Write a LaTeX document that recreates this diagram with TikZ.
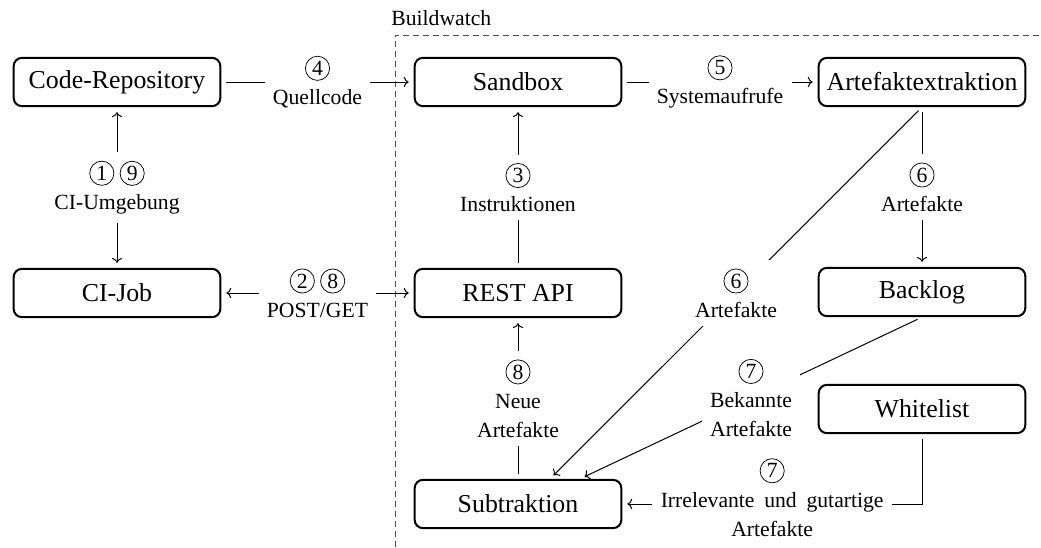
\documentclass[tikz,border=0pt]{standalone}
\usepackage{fontspec}
\setmainfont{Liberation Serif}
\usetikzlibrary{arrows.meta}
\tikzset{
  box/.style={draw, line width=1.2pt, rounded corners=5pt, minimum width=124pt, minimum height=29pt, font=\fontsize{15.5pt}{18pt}\selectfont, inner sep=0pt},
  conn/.style={line width=0.6pt, shorten >=3pt, shorten <=3pt},
  lbl/.style={fill=white, align=center, font=\fontsize{13pt}{17.5pt}\selectfont, inner sep=5pt},
  border/.style={line width=0.6pt, black!70, dash pattern=on 3.6pt off 2.4pt},
}
\newcommand{\cnum}[1]{\tikz[baseline=(cn.base)]\node[draw,circle,line width=0.45pt,inner sep=0pt,minimum size=14.5pt,fill=none,text=black](cn){#1};}
\begin{document}
\begin{tikzpicture}[x=0.6pt,y=-0.6pt]
\useasboundingbox (0,0) rectangle (1041,547);
% boundary
\coordinate (b1) at (395,547);
\coordinate (b2) at (395,35);
\coordinate (b3) at (1041,35);
\draw[border] (b1) -- (b2) -- (b3);
\node[anchor=base west, inner sep=0pt, font=\fontsize{13pt}{15pt}\selectfont] (bw) at (391,25) {Buildwatch};
% nodes
\node[box] (code) at (117,82) {Code-Repository};
\node[box] (cijob) at (117,293) {CI-Job};
\node[box] (sandbox) at (518,82) {Sandbox};
\node[box] (rest) at (518,293) {REST API};
\node[box] (sub) at (518,504) {Subtraktion};
\node[box] (artex) at (922,82) {Artefaktextraktion};
\node[box] (backlog) at (922,292) {Backlog};
\node[box] (white) at (922,409) {Whitelist};
% connectors
\draw[conn,->] (code) -- node[lbl]{\cnum{4}\\Quellcode} (sandbox);
\draw[conn,->] (sandbox) -- node[lbl]{\cnum{5}\\Systemaufrufe} (artex);
\draw[conn,<->] (code) -- node[lbl]{\cnum{1}~\cnum{9}\\CI-Umgebung} (cijob);
\draw[conn,<->] (cijob) -- node[lbl]{\cnum{2}~\cnum{8}\\POST/GET} (rest);
\draw[conn,->] (rest) -- node[lbl]{\cnum{3}\\Instruktionen} (sandbox);
\draw[conn,->] (sub) -- node[lbl]{\cnum{8}\\Neue\\Artefakte} (rest);
\draw[conn,->] (artex) -- node[lbl]{\cnum{6}\\Artefakte} (backlog);
\draw[conn,->] (artex.south) -- node[lbl]{\cnum{6}\\Artefakte} ([xshift=19.2pt]sub.north);
\draw[conn,->] (backlog.south) -- node[lbl]{\cnum{7}\\Bekannte\\Artefakte} ([xshift=37.2pt]sub.north);
\draw[conn,->] (white.south) |- node[lbl,pos=0.75,yshift=4pt]{\cnum{7}\\Irrelevante\hspace{0.45em}und\hspace{0.45em}gutartige\\Artefakte} (sub.east);
\end{tikzpicture}
\end{document}
